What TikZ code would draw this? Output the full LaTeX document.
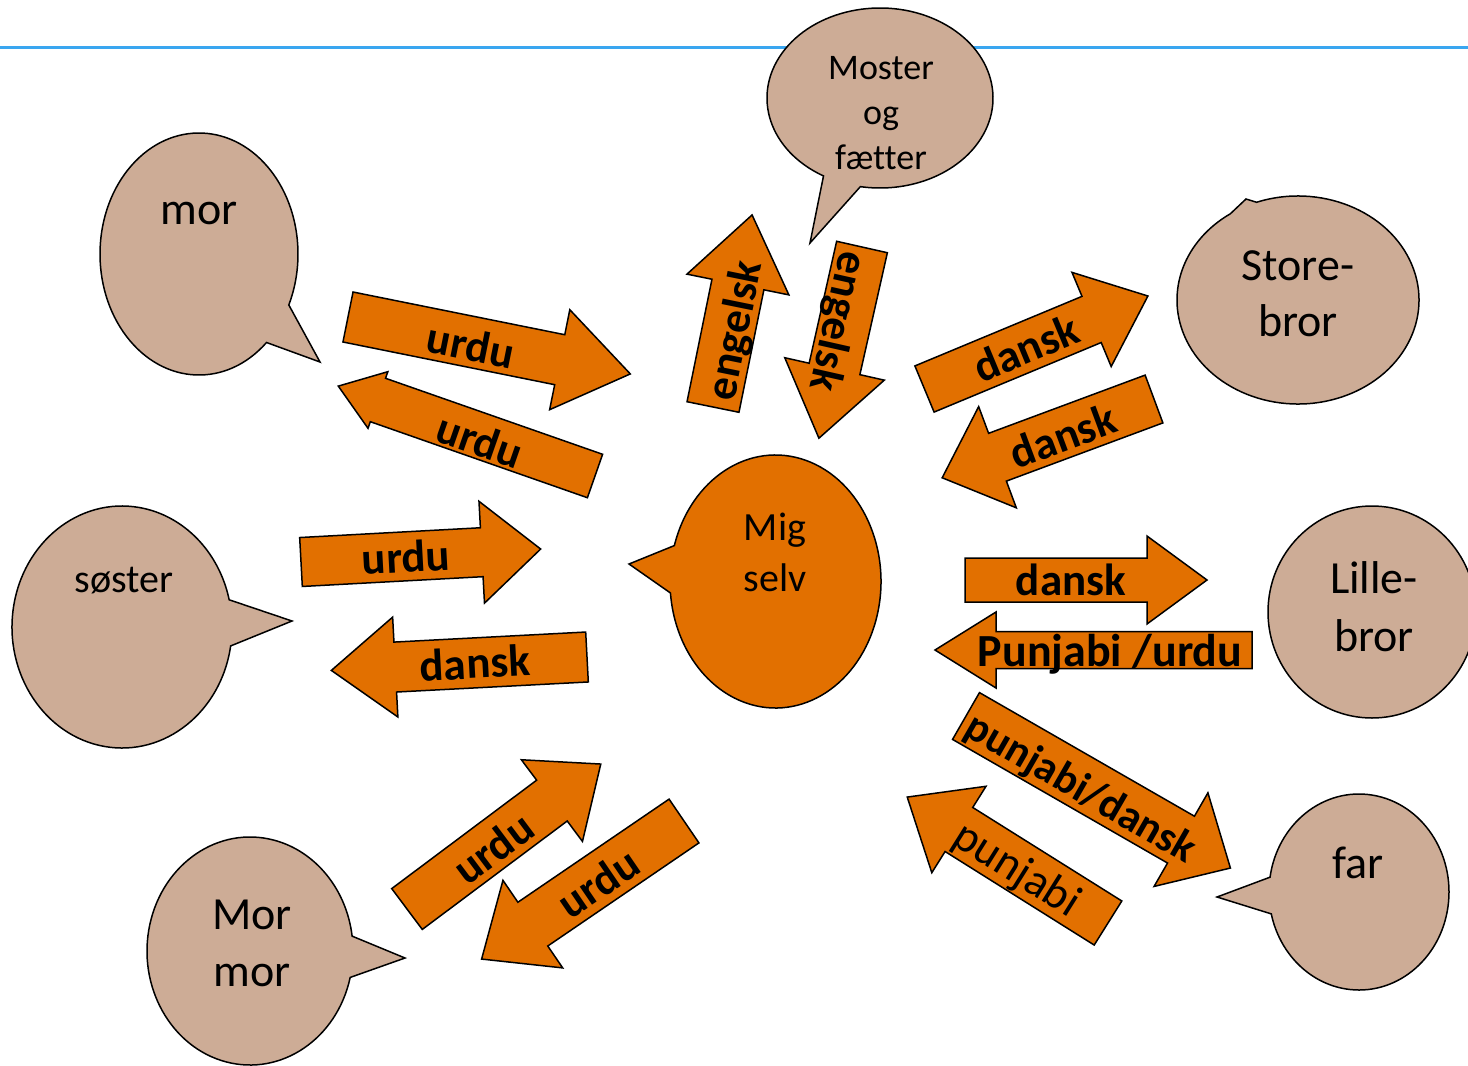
\documentclass[tikz,border=0pt]{standalone}
\usepackage{fontspec}
\setmainfont{Carlito}[Ligatures=NoCommon]
\definecolor{orng}{RGB}{226,112,0}
\definecolor{bubbletan}{RGB}{205,172,150}
\definecolor{lineblue}{RGB}{58,166,240}
% #1 tail x, #2 tail y, #3 image angle, #4 length, #5 shaft width, #6 head half width, #7 head length
\newcommand\blockarrow[7]{%
  \begin{scope}[shift={(#1,#2)},rotate={0-(#3)}]
    \draw[arr] (0,{-(#5)/2}) -- ({#4-#7},{-(#5)/2}) -- ({#4-#7},{-(#6)}) -- (#4,0)
      -- ({#4-#7},{#6}) -- ({#4-#7},{(#5)/2}) -- (0,{(#5)/2}) -- cycle;
  \end{scope}}
% #1 style, #2 cx, #3 cy, #4 rx, #5 ry, #6 start angle, #7 end angle, #8 tip
\newcommand\callout[8]{%
  \draw[#1] (#2,#3) ++(#6:#4 and #5) arc[start angle=#6, end angle=#7, x radius=#4, y radius=#5] -- #8 -- cycle;}
\begin{document}
\begin{tikzpicture}[x=1pt,y=-1pt,
  arr/.style={fill=orng, draw=black, line width=1.5pt, line join=miter},
  bubble/.style={fill=bubbletan, draw=black, line width=1.5pt},
  mebubble/.style={fill=orng, draw=black, line width=1.5pt},
  lbl/.style={inner sep=0pt, font=\fontsize{45}{54}\selectfont\bfseries, text height=31pt, text depth=0pt, anchor=center},
  lblreg/.style={inner sep=0pt, font=\fontsize{46}{55}\selectfont, text height=31pt, text depth=0pt, anchor=center},
  big/.style={inner sep=0pt, font=\fontsize{46}{55}\selectfont, anchor=base},
  mid/.style={inner sep=0pt, font=\fontsize{40}{48}\selectfont, anchor=base},
  small/.style={inner sep=0pt, font=\fontsize{36}{43}\selectfont, anchor=base}]
\useasboundingbox (0,0) rectangle (1468,1066);
\fill[white] (0,0) rectangle (1468,1066);
% top rule
\coordinate (ruleL) at (0,47);
\coordinate (ruleR) at (1468,47);
\draw[lineblue, line width=3pt] (ruleL) -- (ruleR);

% speech bubbles
\callout{bubble}{199}{254}{99}{121}{47}{384.9}{(320,362)}
\callout{bubble}{880}{98}{113}{90}{120}{460}{(810,243)}
\callout{bubble}{1298}{300}{121}{104}{250}{596}{(1246,199)}
\draw[bubble] (1372,612) ellipse[x radius=104, y radius=106];
\callout{bubble}{1359}{892}{90}{98}{188.7}{527.1}{(1217,897)}
\callout{bubble}{250}{951}{103}{114}{13.4}{352.5}{(405,958)}
\callout{bubble}{122}{627}{110}{121}{9}{347}{(292,621)}
\callout{mebubble}{775.5}{581.5}{105.5}{126.5}{196.5}{534.8}{(629,564)}

% bubble texts
\node[big] (mor) at (199,224) {mor};
\node[small] (moster1) at (881,79) {Moster};
\node[small] (moster2) at (881,124) {og};
\node[small] (moster3) at (881,169) {fætter};
\node[big] (store1) at (1298,280) {Store-};
\node[big] (store2) at (1298,336) {bror};
\node[big] (lille1) at (1374,593) {Lille-};
\node[big] (lille2) at (1374,651) {bror};
\node[big] (far) at (1358,878) {far};
\node[big] (mormor1) at (252,929) {Mor};
\node[big] (mormor2) at (252,986) {mor};
\node[mid] (soster) at (124,592) {søster};
\node[mid] (mig1) at (775,540) {Mig};
\node[mid] (mig2) at (775,591) {selv};

% block arrows
\blockarrow{348}{317}{11.4}{288}{51}{51}{72}
\blockarrow{595}{476}{199.3}{272}{46}{30}{42}
\blockarrow{301}{562}{-3.1}{240}{49}{51}{59}
\blockarrow{587}{657}{177}{256}{50}{50}{64}
\blockarrow{407}{909}{-36.8}{242}{51}{51}{61}
\blockarrow{684}{821}{145.7}{245}{53}{53}{62}
\blockarrow{713}{407}{-78.5}{196}{53}{52}{71}
\blockarrow{862}{247}{102.7}{196}{52}{51}{71}
\blockarrow{924.5}{389}{-22.6}{242}{50}{51}{61}
\blockarrow{1154}{399}{159.6}{226}{51}{54}{59}
\blockarrow{965}{580}{0}{242}{44}{44}{60}
\blockarrow{1252}{650}{180}{317}{37}{38}{61}
\blockarrow{966}{716}{29.9}{305}{54}{54}{57}
\blockarrow{1108}{923}{212.1}{237}{52}{51}{61}

% arrow labels
\node[lbl, rotate=-11.4] (t1) at (471,345) {urdu};
\node[lbl, rotate=-19.3] (t2) at (480,440) {urdu};
\node[lbl, rotate=3.1] (t3) at (406,557) {urdu};
\node[lbl, rotate=3] (t4) at (475,663) {dansk};
\node[lbl, rotate=36.8] (t5) at (493,848) {urdu};
\node[lbl, rotate=34.3] (t6) at (598,883) {urdu};
\node[lbl, rotate=78.5] (t7) at (733,330) {engelsk};
\node[lbl, rotate=-102.7] (t8) at (840,322) {engelsk};
\node[lbl, rotate=22.6] (t9) at (1026,348) {dansk};
\node[lbl, rotate=20.4] (t10) at (1063,436) {dansk};
\node[lbl] (t11) at (1071,580) {dansk};
\node[lbl, font=\fontsize{46}{55}\selectfont\bfseries] (t12) at (1110,651) {Punjabi /urdu};
\node[lbl, rotate=-29.9, font=\fontsize{43}{52}\selectfont\bfseries] (t13) at (1082,786) {punjabi/dansk};
\node[lblreg, rotate=-32.1] (t14) at (1018,868) {punjabi};
\end{tikzpicture}
\end{document}
